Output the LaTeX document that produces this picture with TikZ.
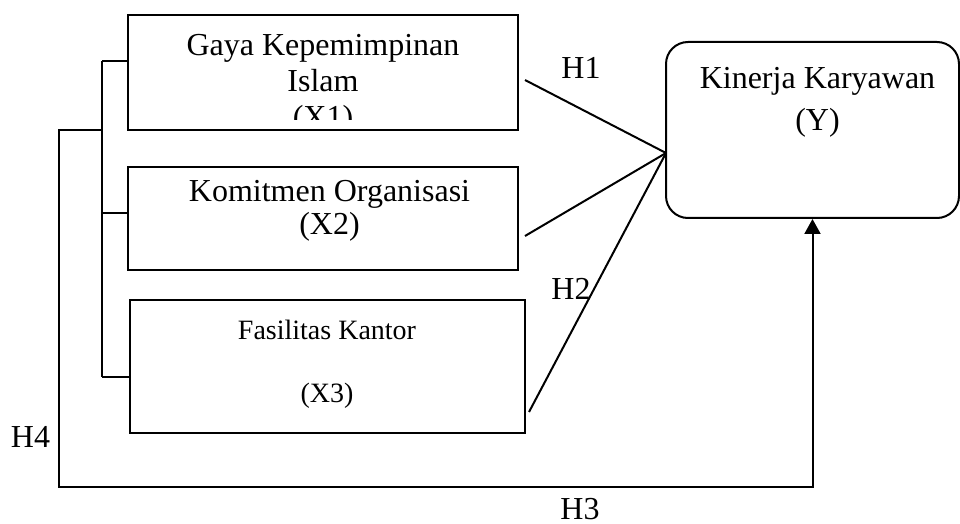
\documentclass[tikz,border=0pt]{standalone}
\usepackage{fontspec}
\setmainfont{Liberation Serif}
\usetikzlibrary{arrows.meta}

\begin{document}
\begin{tikzpicture}[x=0.5pt, y=-0.5pt, line width=1pt,
    varbox/.style={draw, rectangle, inner sep=0},
    txt/.style={align=center, inner sep=0, anchor=north, font=\fontsize{16}{18}\selectfont},
    hlabel/.style={inner sep=0, font=\fontsize{16}{19}\selectfont}]
  \useasboundingbox (0,0) rectangle (960,524);

  \node[varbox, minimum width=195pt, minimum height=57.5pt] (x1) at (323,72.5) {};
  \node[varbox, minimum width=195pt, minimum height=51.5pt] (x2) at (323,218.5) {};
  \node[varbox, minimum width=197.5pt, minimum height=66.5pt] (x3) at (327.5,366.5) {};
  \node[varbox, rounded corners=11pt, minimum width=146.5pt, minimum height=88pt] (y) at (812.5,130) {};

  \begin{scope}
    \clip (128,15) rectangle (518,120);
    \node[txt] (x1txt) at (323,33) {Gaya Kepemimpinan\\Islam\\(X1)};
  \end{scope}
  \node[txt, font=\fontsize{16}{16.5}\selectfont] (x2txt) at (329.5,179) {Komitmen Organisasi\\(X2)};
  \node[txt, font=\fontsize{14}{15.75}\selectfont] (x3txt) at (327,319) {Fasilitas Kantor\\[15.75pt](X3)};
  \node[txt, font=\fontsize{16}{21}\selectfont] (ytxt) at (817.5,66) {Kinerja Karyawan\\(Y)};

  \coordinate (b1) at (102,61);
  \coordinate (b2) at (102,213);
  \coordinate (b3) at (102,377);
  \draw (b1) -- (b3);
  \draw (b1) -- (b1 -| x1.west);
  \draw (b2) -- (b2 -| x2.west);
  \draw (b3) -- (b3 -| x3.west);

  \coordinate (o1) at (59,130);
  \coordinate (o2) at (59,487);
  \draw[-{Triangle[width=8pt,length=7.5pt]}] (o1 -| b1) -- (o1) -- (o2) -- (o2 -| y.south) -- (y.south);

  \coordinate (hub) at (666,153);
  \coordinate (s1) at (525,80);
  \coordinate (s2) at (525,236);
  \coordinate (s3) at (529,412);
  \draw (s1) -- (hub);
  \draw (s2) -- (hub);
  \draw (s3) -- (hub);

  \node[hlabel] (h1) at (581,67.5) {H1};
  \node[hlabel] (h2) at (571,289) {H2};
  \node[hlabel] (h3) at (580,509.5) {H3};
  \node[hlabel] (h4) at (30.5,437) {H4};
\end{tikzpicture}
\end{document}
